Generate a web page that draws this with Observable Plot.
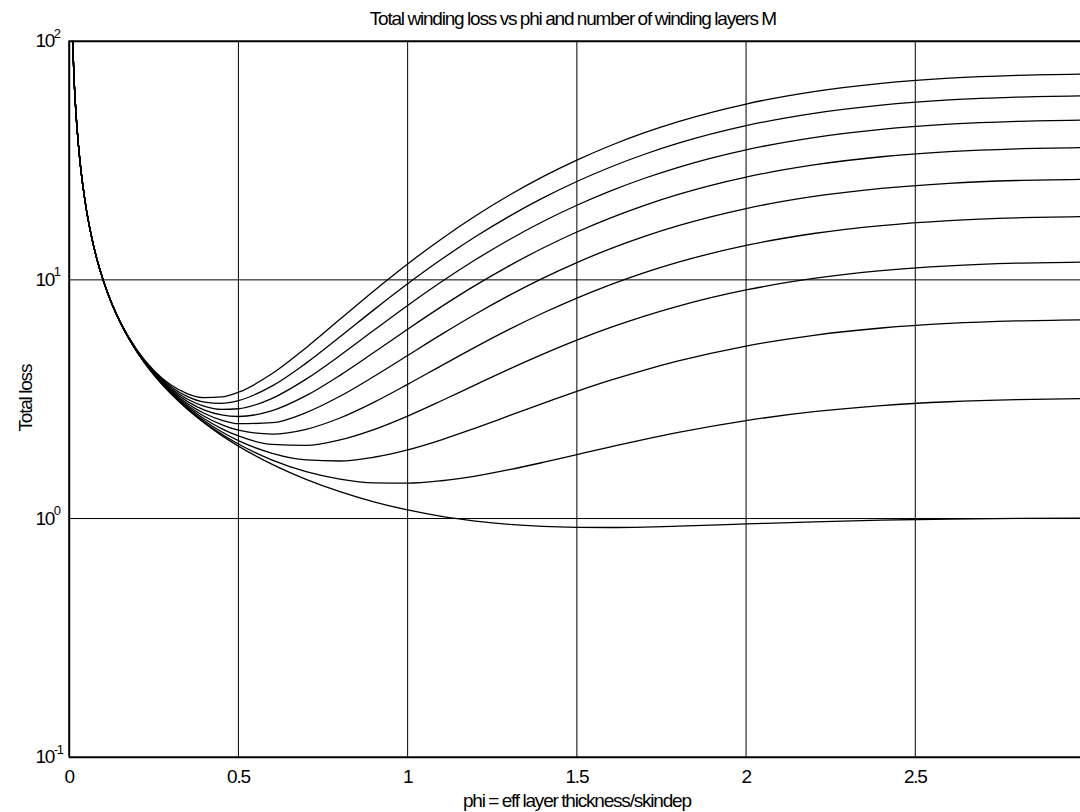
<!DOCTYPE html>
<html>
<head>
<meta charset="utf-8">
<script src="https://cdn.jsdelivr.net/npm/d3@7"></script>
<script src="https://cdn.jsdelivr.net/npm/@observablehq/plot@0.6"></script>
<style>
html, body { margin: 0; padding: 0; background: #fff; }
#chart svg { display: block; }
#chart svg text { letter-spacing: -1.2px; word-spacing: -0.5px; }
</style>
</head>
<body>
<div id="chart"></div>
<script>
// phi = eff layer thickness / skin depth
const phi = [0.01, 0.015, 0.02, 0.03, 0.04, 0.05, 0.06, 0.07, 0.08, 0.1, 0.125, 0.15, 0.2, 0.25, 0.3, 0.35, 0.4, 0.45, 0.5, 0.6, 0.7, 0.8, 0.9, 1.0, 1.1, 1.2, 1.3, 1.4, 1.5, 1.6, 1.7, 1.8, 2.0, 2.2, 2.4, 2.6, 2.8, 3.0];

// Total loss read for each number of winding layers M
const lossM1  = [100, 66.67, 50, 33.33, 25, 20, 16.67, 14.29, 12.5, 10.00, 8.000, 6.667, 5.001, 4.001, 3.336, 2.861, 2.506, 2.230, 2.011, 1.686, 1.459, 1.295, 1.174, 1.086, 1.021, 0.976, 0.945, 0.927, 0.919, 0.917, 0.921, 0.929, 0.949, 0.969, 0.985, 0.995, 1.001, 1.003];
const lossM2  = [100, 66.67, 50, 33.33, 25, 20, 16.67, 14.29, 12.5, 10.00, 8.001, 6.668, 5.003, 4.007, 3.345, 2.875, 2.527, 2.261, 2.053, 1.757, 1.572, 1.463, 1.411, 1.406, 1.440, 1.507, 1.602, 1.719, 1.853, 1.997, 2.147, 2.296, 2.573, 2.803, 2.973, 3.086, 3.150, 3.179];
const lossM3  = [100, 66.67, 50, 33.33, 25, 20, 16.67, 14.29, 12.5, 10.001, 8.002, 6.670, 5.008, 4.015, 3.360, 2.899, 2.563, 2.311, 2.122, 1.877, 1.761, 1.742, 1.806, 1.940, 2.138, 2.393, 2.696, 3.039, 3.410, 3.797, 4.189, 4.573, 5.281, 5.859, 6.286, 6.570, 6.733, 6.806];
const lossM4  = [100, 66.67, 50, 33.33, 25, 20, 16.67, 14.29, 12.5, 10.002, 8.003, 6.673, 5.014, 4.027, 3.381, 2.932, 2.612, 2.382, 2.219, 2.044, 2.025, 2.134, 2.358, 2.687, 3.115, 3.633, 4.228, 4.886, 5.590, 6.317, 7.048, 7.763, 9.071, 10.138, 10.925, 11.447, 11.748, 11.884];
const lossM5  = [100, 66.67, 50, 33.33, 25, 20, 16.67, 14.29, 12.5, 10.003, 8.005, 6.676, 5.022, 4.043, 3.408, 2.975, 2.676, 2.473, 2.344, 2.259, 2.365, 2.638, 3.068, 3.649, 4.372, 5.227, 6.198, 7.262, 8.392, 9.557, 10.725, 11.863, 13.944, 15.639, 16.889, 17.718, 18.197, 18.412];
const lossM6  = [100, 66.67, 50, 33.33, 25, 20, 16.67, 14.29, 12.5, 10.004, 8.008, 6.680, 5.032, 4.062, 3.441, 3.028, 2.754, 2.584, 2.496, 2.521, 2.780, 3.253, 3.936, 4.823, 5.908, 7.176, 8.605, 10.165, 11.817, 13.517, 15.218, 16.874, 19.900, 22.363, 24.179, 25.383, 26.078, 26.391];
const lossM7  = [100, 66.67, 50, 33.33, 25, 20, 16.67, 14.29, 12.5, 10.005, 8.010, 6.685, 5.043, 4.085, 3.480, 3.089, 2.847, 2.716, 2.676, 2.832, 3.271, 3.981, 4.962, 6.212, 7.723, 9.479, 11.450, 13.596, 15.865, 18.196, 20.528, 22.797, 26.939, 30.309, 32.794, 34.441, 35.393, 35.821];
const lossM8  = [100, 66.67, 50, 33.33, 25, 20, 16.67, 14.29, 12.5, 10.007, 8.014, 6.691, 5.057, 4.111, 3.525, 3.161, 2.953, 2.867, 2.884, 3.190, 3.837, 4.820, 6.145, 7.813, 9.817, 12.136, 14.733, 17.556, 20.536, 23.596, 26.655, 29.631, 35.060, 39.478, 42.734, 44.893, 46.140, 46.701];
const lossM9  = [100, 66.67, 50, 33.33, 25, 20, 16.67, 14.29, 12.5, 10.009, 8.017, 6.697, 5.072, 4.140, 3.576, 3.242, 3.074, 3.039, 3.119, 3.596, 4.478, 5.772, 7.487, 9.629, 12.191, 15.148, 18.454, 22.043, 25.829, 29.716, 33.599, 37.376, 44.265, 49.869, 54.000, 56.738, 58.321, 59.032];
const lossM10 = [100, 66.67, 50, 33.33, 25, 20, 16.67, 14.29, 12.5, 10.011, 8.022, 6.704, 5.089, 4.173, 3.633, 3.332, 3.209, 3.231, 3.383, 4.049, 5.196, 6.835, 8.986, 11.658, 14.844, 18.514, 22.612, 27.057, 31.746, 36.555, 41.360, 46.032, 54.552, 61.483, 66.591, 69.977, 71.934, 72.814];

const layersM = [1, 2, 3, 4, 5, 6, 7, 8, 9, 10];
const lossSeries = [lossM1, lossM2, lossM3, lossM4, lossM5, lossM6, lossM7, lossM8, lossM9, lossM10];

const xTickValues = [0, 0.5, 1, 1.5, 2, 2.5];
const xTickLabels = ["0", "0.5", "1", "1.5", "2", "2.5"];
const xGridValues = [0.5, 1, 1.5, 2, 2.5];
const yTickValues = [0.1, 1, 10, 100];
const yTickBase = ["10", "10", "10", "10"];
const yTickExponents = ["-1", "0", "1", "2"];
const yGridValues = [1, 10];

const titleText = "Total winding loss vs phi and number of winding layers M";
const xLabelText = "phi = eff layer thickness/skindep";
const yLabelText = "Total loss";

const rows = [];
lossSeries.forEach((arr, i) => arr.forEach((v, j) => rows.push({phi: phi[j], loss: v, M: layersM[i]})));

const chart = Plot.plot({
  width: 1080,
  height: 812,
  marginLeft: 68.7,
  marginRight: 0,
  marginTop: 40.7,
  marginBottom: 55.3,
  style: {fontFamily: "'Liberation Sans', Arial, sans-serif", fontSize: "19px", color: "black", background: "white", overflow: "visible"},
  x: {domain: [0, 3], range: [68.7, 1084], axis: null},
  y: {type: "log", domain: [0.1, 100], axis: null},
  marks: [
    Plot.ruleX(xGridValues, {stroke: "black", strokeWidth: 1}),
    Plot.ruleY(yGridValues, {stroke: "black", strokeWidth: 1}),
    Plot.line(rows, {x: "phi", y: "loss", z: "M", stroke: "black", strokeWidth: 1.3, curve: "monotone-x", clip: true}),
    Plot.ruleX([0], {stroke: "black", strokeWidth: 2}),
    Plot.ruleY([0.1, 100], {stroke: "black", strokeWidth: 2}),
    Plot.text(xTickValues, {x: d => d, text: (d, i) => xTickLabels[i], frameAnchor: "bottom", dy: 19.5, lineAnchor: "middle", textAnchor: "middle", fontSize: 19, fill: "black"}),
    Plot.text(yTickValues, {y: d => d, text: (d, i) => yTickBase[i], frameAnchor: "left", dx: -33.7, lineAnchor: "middle", textAnchor: "start", fontSize: 19, fill: "black"}),
    Plot.text(yTickValues, {y: d => d, text: (d, i) => yTickExponents[i], frameAnchor: "left", dx: -15.5, dy: -7.7, lineAnchor: "middle", textAnchor: "start", fontSize: 13, fill: "black"}),
    Plot.text([titleText], {text: d => d, frameAnchor: "top", dx: -2, dy: -22.5, lineAnchor: "middle", fontSize: 19, fill: "black"}),
    Plot.text([xLabelText], {text: d => d, frameAnchor: "bottom", dx: 2, dy: 43.9, lineAnchor: "middle", fontSize: 19, fill: "black"}),
    Plot.text([yLabelText], {text: d => d, frameAnchor: "left", rotate: -90, dx: -43.7, dy: 32.3, lineAnchor: "middle", textAnchor: "start", fontSize: 19, fill: "black"})
  ]
});
document.getElementById("chart").appendChild(chart);
</script>
</body>
</html>
